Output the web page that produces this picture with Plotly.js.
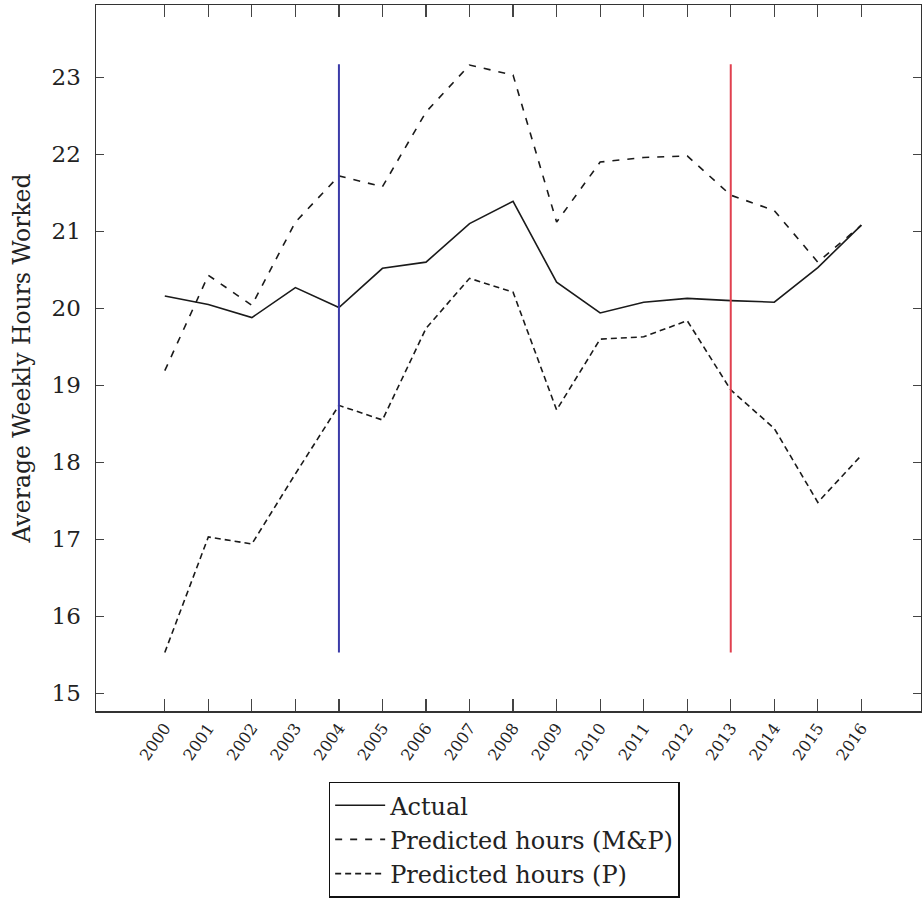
<!DOCTYPE html>
<html>
<head>
<meta charset="utf-8">
<script src="https://cdn.plot.ly/plotly-3.0.1.min.js"></script>
<style>html,body{margin:0;padding:0;background:#fff;}</style>
</head>
<body>
<div id="chart" style="width:922px;height:899px;"></div>
<script>
const years = [2000,2001,2002,2003,2004,2005,2006,2007,2008,2009,2010,2011,2012,2013,2014,2015,2016];
const yearLabels = years.map(String);
const actual = [20.16,20.05,19.88,20.27,20.01,20.52,20.60,21.10,21.39,20.34,19.94,20.08,20.13,20.10,20.08,20.53,21.08];
const predictedMP = [19.19,20.43,20.04,21.12,21.72,21.58,22.55,23.16,23.03,21.12,21.90,21.96,21.98,21.47,21.27,20.60,21.08];
const predictedP = [15.53,17.03,16.94,17.85,18.74,18.55,19.74,20.39,20.21,18.68,19.60,19.63,19.84,18.94,18.44,17.48,18.09];
const markerYears = [2004, 2013];
const markerRange = [15.53, 23.17];
const yTicks = [15,16,17,18,19,20,21,22,23];
const seriesNames = ["Actual", "Predicted hours (M&P)", "Predicted hours (P)"];

const serif = "DejaVu Serif, Liberation Serif, serif";
const traces = [
  {x: years, y: actual, name: seriesNames[0], mode: "lines", legendgroup: "a",
   line: {color: "#1a1a1a", width: 1.6}},
  {x: years, y: predictedMP, name: seriesNames[1], mode: "lines", legendgroup: "b",
   line: {color: "#1a1a1a", width: 1.6, dash: "7px,8px"}},
  {x: years, y: predictedP, name: seriesNames[2], mode: "lines", legendgroup: "c",
   line: {color: "#1a1a1a", width: 1.6, dash: "6px,4px"}},
  {x: [markerYears[0], markerYears[0]], y: markerRange, mode: "lines", showlegend: false,
   hoverinfo: "skip", line: {color: "#3b3ba8", width: 2}},
  {x: [markerYears[1], markerYears[1]], y: markerRange, mode: "lines", showlegend: false,
   hoverinfo: "skip", line: {color: "#e0404f", width: 2}}
];

const layout = {
  width: 922, height: 899,
  margin: {l: 96, r: 1, t: 5, b: 188, autoexpand: false},
  paper_bgcolor: "#fff", plot_bgcolor: "#fff",
  font: {family: serif, color: "#222"},
  showlegend: true,
  xaxis: {
    range: [1998.42, 2017.37], tickvals: years, ticktext: yearLabels,
    tickangle: -55, ticks: "inside", ticklen: 12, tickcolor: "#444", tickwidth: 1.2,
    showline: true, linecolor: "#333", linewidth: 1.5, mirror: "ticks",
    showgrid: false, zeroline: false, tickfont: {family: serif, size: 16, color: "#222"},
    automargin: false
  },
  yaxis: {
    range: [14.77, 23.94], tickvals: yTicks, ticks: "inside", ticklen: 8,
    tickcolor: "#444", tickwidth: 1.2, ticklabelstandoff: 9,
    showline: true, linecolor: "#333", linewidth: 1.5, mirror: "ticks",
    showgrid: false, zeroline: false, tickfont: {family: serif, size: 23, color: "#222"},
    title: {text: "Average Weekly Hours Worked", font: {family: serif, size: 23.5, color: "#222"}, standoff: 14},
    automargin: false
  },
  legend: {
    x: 0.282, y: -0.1, xanchor: "left", yanchor: "top",
    bordercolor: "#111", borderwidth: 1.5, bgcolor: "#fff",
    font: {family: serif, size: 24, color: "#222"},
    tracegroupgap: 0, itemwidth: 50
  }
};

Plotly.newPlot("chart", traces, layout, {staticPlot: true, displayModeBar: false});
</script>
</body>
</html>
